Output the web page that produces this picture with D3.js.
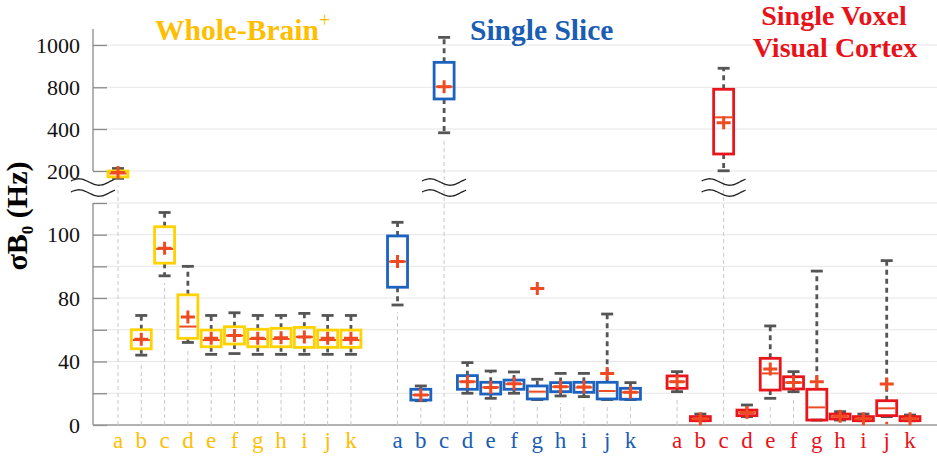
<!DOCTYPE html>
<html><head><meta charset="utf-8">
<script src="https://cdn.jsdelivr.net/npm/d3@7"></script>
<style>body{margin:0;background:#fff}svg{display:block}</style>
</head><body><svg id="c" width="937" height="457"></svg>
<script>
// ---------------- data ----------------
const categories = ['a','b','c','d','e','f','g','h','i','j','k'];
const groupNames = ['Whole-Brain', 'Single Slice', 'Single Voxel Visual Cortex'];
const upperTicks = [200, 400, 800, 1000];
const lowerTicks = [0, 20, 40, 60, 80, 90, 100, 110];
const lowerLabels = [0, 40, 80, 100];

// Whole-Brain+
const wbLow  = [165, 44, 87, 52, 44.5, 45, 44.5, 44.5, 44.5, 44.5, 44.5];
const wbQ1   = [172, 48, 91, 54.6, 49.3, 51, 49.3, 49.3, 48.9, 48.9, 48.9];
const wbMed  = [188, 53.5, 95.5, 62, 53.5, 56.3, 54.2, 54.2, 55.5, 53.5, 53.5];
const wbQ3   = [200, 60, 102.5, 81, 59.8, 61.9, 60.3, 60.9, 61.5, 59.8, 59.8];
const wbHigh = [212, 69, 107, 90, 69, 70.7, 69, 69, 70.3, 69, 69];
const wbMean = [193, 54, 95.7, 68, 54.6, 56.3, 54.6, 55, 55.5, 54.6, 54.6];

// Single Slice
const ssLow  = [75.6, 15.3, 382, 20, 16.8, 20, 16, 18.3, 17.9, 16, 16];
const ssQ1   = [83.4, 15.7, 688, 22.5, 19.5, 22.5, 16.4, 21, 20.6, 16.4, 16.2];
const ssMed  = [91.5, 18.9, 803, 27.3, 23.7, 25.8, 21, 24.1, 23.7, 21.4, 20.6];
const ssQ3   = [99.6, 22.5, 918, 31.1, 26.9, 28.3, 24.6, 26.7, 26.9, 26.9, 23.1];
const ssHigh = [103.9, 24.6, 1036, 39.3, 34, 33.4, 28.8, 32.5, 32.5, 69.9, 26.7];
const ssMean = [91.5, 18.9, 803, 27.3, 23.7, 26, 83, 24.1, 24, 32.5, 20.6];

// Single Voxel Visual Cortex
const svLow  = [21, 2.7, 201, 5.3, 16.8, 21, 3.1, 3.1, 2.7, 5.3, 2.7];
const svQ1   = [23.1, 2.7, 281, 5.9, 22, 22.7, 3.1, 3.8, 2.7, 5.9, 2.7];
const svMed  = [27.3, 4, 512, 7.8, 32.5, 26.7, 11.1, 5.3, 4, 10.5, 4];
const svQ3   = [30.9, 5.3, 781, 9.4, 42, 30.4, 22.5, 6.9, 5.3, 15.3, 5.3];
const svHigh = [33.6, 6.9, 890, 12.6, 62.4, 33.6, 88.5, 8.4, 6.9, 91.8, 6.3];
const svMean = [27.3, 4, 460, 7.8, 35.3, 26.7, 27.3, 5.5, 4, 25.8, 4];

// outlier points (group index, category, value)
const outlierGroup = [2];
const outlierCat = ['j'];
const outlierValue = [0];

const groupColors = ['#FFD200', '#1C63BF', '#E8161C'];
const titleColors = ['#FFBE00', '#1A5DB2', '#E8131A'];
const markColor = '#EF4B22';

// ---------------- build ----------------
const stats = [
  [wbLow, wbQ1, wbMed, wbQ3, wbHigh, wbMean],
  [ssLow, ssQ1, ssMed, ssQ3, ssHigh, ssMean],
  [svLow, svQ1, svMed, svQ3, svHigh, svMean]
];
const boxes = [];
stats.forEach((s, g) => categories.forEach((c, i) => boxes.push({
  g, c, i, low: s[0][i], q1: s[1][i], med: s[2][i], q3: s[3][i], high: s[4][i], mean: s[5][i]
})));

const svg = d3.select('#c');
const W = 937;
const axisX = 93;
const serif = '"Liberation Serif","Times New Roman",Times,serif';

const x = d3.scaleLinear().domain([1, 35]).range([118, 910]);
const pos = (g, i) => g * 12 + i + 1;
const yU = d3.scaleLinear().domain([200, 400, 800, 1000]).range([171, 129, 87.3, 45]);
const yL = d3.scaleLinear().domain([0, 80, 110]).range([425, 298, 203]);
const isUpper = d => d.med > 150;
const yOf = d => isUpper(d) ? yU : yL;

// gridlines
svg.append('g').selectAll('line').data(upperTicks).join('line')
  .attr('x1', axisX).attr('x2', W).attr('y1', d => yU(d)).attr('y2', d => yU(d))
  .attr('stroke', '#e6e6e6').attr('stroke-width', 1);
svg.append('g').selectAll('line').data(lowerTicks.filter(v => v > 0)).join('line')
  .attr('x1', axisX).attr('x2', W).attr('y1', d => yL(d)).attr('y2', d => yL(d))
  .attr('stroke', '#e6e6e6').attr('stroke-width', 1);

// axes
const styleAxis = g => {
  g.select('.domain').remove();
  g.selectAll('.tick line').attr('stroke', '#8a8a8a').attr('stroke-width', 1.3);
  g.selectAll('.tick text').attr('font-family', serif).attr('font-size', 22).attr('fill', '#111');
};
svg.append('g').attr('transform', `translate(${axisX},0)`)
  .call(d3.axisLeft(yU).tickValues(upperTicks).tickSizeInner(-14).tickSizeOuter(0).tickPadding(13)
    .tickFormat(d3.format('d')))
  .call(styleAxis);
svg.append('g').attr('transform', `translate(${axisX},0)`)
  .call(d3.axisLeft(yL).tickValues(lowerTicks).tickSizeInner(-14).tickSizeOuter(0).tickPadding(13)
    .tickFormat(v => lowerLabels.includes(v) ? v : ''))
  .call(styleAxis);
svg.append('line').attr('x1', axisX).attr('x2', axisX).attr('y1', 29).attr('y2', yU(200))
  .attr('stroke', '#8a8a8a').attr('stroke-width', 1.3);
svg.append('line').attr('x1', axisX).attr('x2', axisX).attr('y1', yL(110)).attr('y2', yL(0))
  .attr('stroke', '#8a8a8a').attr('stroke-width', 1.3);
svg.append('line').attr('x1', axisX).attr('x2', W).attr('y1', yL(0)).attr('y2', yL(0))
  .attr('stroke', '#999').attr('stroke-width', 1.3);

// guide dashed lines
svg.append('g').selectAll('line').data(boxes).join('line')
  .attr('x1', d => x(pos(d.g, d.i))).attr('x2', d => x(pos(d.g, d.i)))
  .attr('y1', yL(0)).attr('y2', d => Math.min(yL(0), yOf(d)(d.low) + 7))
  .attr('stroke', '#c9c9c9').attr('stroke-width', 1).attr('stroke-dasharray', '4,3');

// break marks
const breakXs = [axisX, x(pos(1, 2)), x(pos(2, 2))];
const wave = d3.line().curve(d3.curveBasis);
breakXs.forEach(bx => {
  [182, 193].forEach(by => {
    const pts = d3.range(0, 21).map(k => {
      const t = 0.05 + 1.1 * k / 20;
      return [bx - 22 + 44 * k / 20, by - 3.3 * Math.sin(2 * Math.PI * t)];
    });
    svg.append('path').attr('d', wave(pts)).attr('fill', 'none')
      .attr('stroke', '#222').attr('stroke-width', 1.3);
  });
});

// boxes
const bw = 20, capW = 12;
const bg = svg.append('g');
boxes.forEach(d => {
  const cx = x(pos(d.g, d.i)), y = yOf(d);
  const g = bg.append('g');
  g.append('line').attr('x1', cx).attr('x2', cx).attr('y1', y(d.q3)).attr('y2', y(d.high))
    .attr('stroke', '#555').attr('stroke-width', 2.8).attr('stroke-dasharray', '5,4');
  g.append('line').attr('x1', cx).attr('x2', cx).attr('y1', y(d.q1)).attr('y2', y(d.low))
    .attr('stroke', '#555').attr('stroke-width', 2.8).attr('stroke-dasharray', '5,4');
  [d.high, d.low].forEach(v => g.append('line')
    .attr('x1', cx - capW / 2).attr('x2', cx + capW / 2).attr('y1', y(v)).attr('y2', y(v))
    .attr('stroke', '#555').attr('stroke-width', 2.8));
  g.append('rect').attr('x', cx - bw / 2).attr('width', bw)
    .attr('y', y(d.q3)).attr('height', Math.max(1, y(d.q1) - y(d.q3)))
    .attr('fill', 'none').attr('stroke', groupColors[d.g]).attr('stroke-width', 2.8);
  g.append('line').attr('x1', cx - bw / 2 + 1.5).attr('x2', cx + bw / 2 - 1.5)
    .attr('y1', y(d.med)).attr('y2', y(d.med)).attr('stroke', markColor).attr('stroke-width', 2);
  const my = y(d.mean);
  g.append('path').attr('d', `M${cx - 7},${my}H${cx + 7}M${cx},${my - 6.5}V${my + 6.5}`)
    .attr('stroke', markColor).attr('stroke-width', 3).attr('fill', 'none');
});

// outliers
outlierValue.forEach((v, k) => {
  svg.append('circle').attr('cx', x(pos(outlierGroup[k], categories.indexOf(outlierCat[k]))))
    .attr('cy', yL(v) - 2).attr('r', 1.6).attr('fill', markColor);
});

// category labels
svg.append('g').selectAll('text').data(boxes).join('text')
  .attr('x', d => x(pos(d.g, d.i))).attr('y', 448).attr('text-anchor', 'middle')
  .attr('font-family', serif).attr('font-size', 23).attr('fill', d => titleColors[d.g])
  .text(d => d.c);

// titles
const t0 = svg.append('text').attr('x', 155).attr('y', 40).attr('font-family', serif)
  .attr('font-weight', 'bold').attr('font-size', 29.5).attr('fill', titleColors[0]);
t0.append('tspan').text(groupNames[0]);
t0.append('tspan').attr('font-size', 20).attr('font-weight', 'normal').attr('dy', -13).text('+');
svg.append('text').attr('x', 470).attr('y', 39.5).attr('font-family', serif)
  .attr('font-weight', 'bold').attr('font-size', 29.5).attr('fill', titleColors[1]).text(groupNames[1]);
const t2 = svg.append('text').attr('text-anchor', 'middle').attr('font-family', serif)
  .attr('font-weight', 'bold').attr('font-size', 28).attr('fill', titleColors[2]);
t2.append('tspan').attr('x', 834).attr('y', 25).text('Single Voxel');
t2.append('tspan').attr('x', 835).attr('y', 57).text('Visual Cortex');

// y-axis title
const yt = svg.append('text').attr('transform', 'translate(27,216) rotate(-90)')
  .attr('text-anchor', 'middle').attr('font-family', serif).attr('font-weight', 'bold')
  .attr('font-size', 30).attr('fill', '#000');
yt.append('tspan').text('σB');
yt.append('tspan').attr('font-size', 17).attr('dy', 6).text('0');
yt.append('tspan').attr('dy', -6).text(' (Hz)');
</script></body></html>
